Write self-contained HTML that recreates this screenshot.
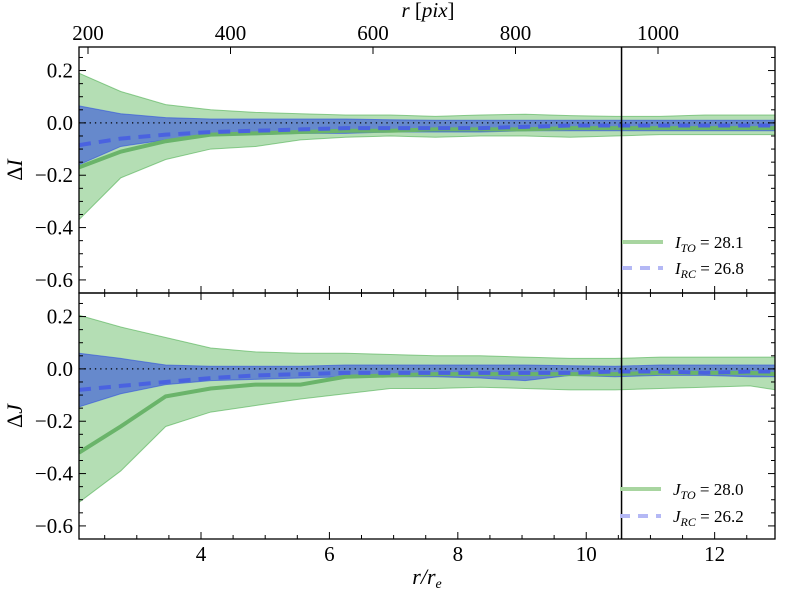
<!DOCTYPE html>
<html><head><meta charset="utf-8">
<style>
body{margin:0;background:#fff;}
svg{display:block;}
svg text{font-family:"Liberation Serif","DejaVu Serif",serif;}
</style></head>
<body>
<svg id="chart" width="800" height="600" xmlns="http://www.w3.org/2000/svg"></svg>
<script>
const rr = [2.1,2.75,3.45,4.15,4.85,5.55,6.25,6.95,7.65,8.35,9.05,9.75,10.45,11.15,11.85,12.55,12.95];
// Top panel (ΔI)
const iToLine = [-0.17,-0.11,-0.07,-0.045,-0.04,-0.035,-0.03,-0.03,-0.025,-0.025,-0.025,-0.02,-0.02,-0.02,-0.02,-0.02,-0.02];
const iToUp   = [0.19,0.12,0.07,0.05,0.04,0.035,0.03,0.03,0.025,0.03,0.033,0.028,0.025,0.025,0.03,0.03,0.03];
const iToLo   = [-0.37,-0.21,-0.14,-0.10,-0.09,-0.065,-0.055,-0.05,-0.055,-0.05,-0.05,-0.055,-0.05,-0.045,-0.045,-0.045,-0.045];
const iRcLine = [-0.085,-0.06,-0.045,-0.035,-0.03,-0.025,-0.02,-0.02,-0.02,-0.02,-0.015,-0.01,-0.01,-0.01,-0.01,-0.01,-0.01];
const iRcUp   = [0.065,0.035,0.02,0.015,0.015,0.015,0.015,0.012,0.01,0.01,0.01,0.01,0.01,0.01,0.01,0.01,0.01];
const iRcLo   = [-0.16,-0.09,-0.065,-0.045,-0.045,-0.04,-0.04,-0.035,-0.035,-0.035,-0.03,-0.03,-0.03,-0.03,-0.03,-0.03,-0.03];
// Bottom panel (ΔJ)
const jToLine = [-0.32,-0.22,-0.105,-0.075,-0.06,-0.06,-0.03,-0.025,-0.02,-0.02,-0.02,-0.02,-0.02,-0.015,-0.015,-0.015,-0.02];
const jToUp   = [0.205,0.16,0.12,0.08,0.065,0.06,0.06,0.055,0.05,0.05,0.045,0.04,0.04,0.045,0.045,0.045,0.045];
const jToLo   = [-0.51,-0.39,-0.22,-0.165,-0.14,-0.115,-0.095,-0.075,-0.075,-0.07,-0.075,-0.08,-0.08,-0.075,-0.07,-0.065,-0.08];
const jRcLine = [-0.08,-0.065,-0.05,-0.035,-0.025,-0.02,-0.015,-0.015,-0.015,-0.015,-0.015,-0.015,-0.01,-0.01,-0.015,-0.01,-0.01];
const jRcUp   = [0.06,0.04,0.015,0.01,0.01,0.01,0.015,0.015,0.015,0.015,0.015,0.012,0.01,0.015,0.015,0.015,0.015];
const jRcLo   = [-0.145,-0.095,-0.06,-0.045,-0.04,-0.035,-0.03,-0.03,-0.03,-0.035,-0.045,-0.025,-0.03,-0.025,-0.025,-0.03,-0.03];
const xTicks = [4,6,8,10,12];
const pixTicks = [200,400,600,800,1000];
const yTicks = [0.2,0.0,-0.2,-0.4,-0.6];
const vLine = 10.55;

const NS="http://www.w3.org/2000/svg";
const svg=document.getElementById('chart');
const FONT='"Liberation Serif","DejaVu Serif",serif';
const L=79,R=775,XMIN=2.1,XMAX=12.94;
const sx=v=>L+(v-XMIN)/(XMAX-XMIN)*(R-L);
const spx=p=>88+(p-200)*0.7125;
const YMAX=0.29,YMIN=-0.65;
function mk(tag,attrs,parent){const e=document.createElementNS(NS,tag);for(const k in attrs)e.setAttribute(k,attrs[k]);if(tag==='text')e.setAttribute('font-family',FONT);(parent||svg).appendChild(e);return e;}
function fmt(v){return (v<0?'\u2212':'')+Math.abs(v).toFixed(1);}

function panel(top,bot,name,d,lbl,legs,legY,legX){
  const sy=v=>top+(YMAX-v)/(YMAX-YMIN)*(bot-top);
  const g=mk('g',{});
  
  
  const clip=mk('clipPath',{id:'c'+name},g);mk('rect',{x:L,y:top,width:R-L,height:bot-top},clip);
  const pg=mk('g',{'clip-path':'url(#c'+name+')'},g);
  function band(up,lo,fill,op,stroke,n){
    let dd='M'+rr.map((x,i)=>sx(x)+','+sy(up[i])).join(' L')+' L'+rr.map((x,i)=>sx(x)+','+sy(lo[i])).reverse().join(' L')+'Z';
    const p=mk('path',{d:dd,fill:fill,'fill-opacity':op,stroke:stroke,'stroke-width':1,'stroke-opacity':0.6},pg);
    
    
  }
  function line(vals,color,w,dash,n){
    const p=mk('polyline',{points:rr.map((x,i)=>sx(x)+','+sy(vals[i])).join(' '),fill:'none',stroke:color,'stroke-width':w,'stroke-dasharray':dash||'none'},pg);
    
    
  }
  band(d.toUp,d.toLo,'#6abd6a',0.5,'#4caf50',name+'-to-band');
  band(d.rcUp,d.rcLo,'#3250dc',0.6,'#3050e0',name+'-rc-band');
  line(d.toLine,'#6ab46a',4,null,name+'-to-line');
  line(d.rcLine,'#4a62e0',4,'12,8',name+'-rc-line');
  const z=mk('line',{x1:L,x2:R,y1:sy(0),y2:sy(0),stroke:'#000','stroke-width':1.3,'stroke-dasharray':'1.3,4'},pg);
  
  
  const vl=mk('line',{x1:sx(vLine),x2:sx(vLine),y1:top,y2:bot,stroke:'#000','stroke-width':1.5},g);
  
  
  mk('rect',{x:L,y:top,width:R-L,height:bot-top,fill:'none',stroke:'#000','stroke-width':1.3},g);
  for(let v=-0.65;v<=0.29;v+=0.05){
    const vv=Math.round(v*100)/100, maj=Math.abs(Math.round(vv*10)/10-vv)<1e-6&&Math.round(vv*10)%2===0;
    const len=maj?7:4;
    mk('line',{x1:L,x2:L+len,y1:sy(vv),y2:sy(vv),stroke:'#000'},g);
    mk('line',{x1:R,x2:R-len,y1:sy(vv),y2:sy(vv),stroke:'#000'},g);
  }
  yTicks.forEach(v=>{
    const t=mk('text',{x:L-6,y:sy(v)+7,'text-anchor':'end','font-size':21},g);t.textContent=fmt(v);
    
    
  });
  for(let v=2.5;v<=12.94;v+=0.5){
    const maj=Math.abs(v%2)<1e-6,len=maj?7:4;
    mk('line',{x1:sx(v),x2:sx(v),y1:bot,y2:bot-len,stroke:'#000'},g);
    if(name==='j')mk('line',{x1:sx(v),x2:sx(v),y1:top,y2:top+len,stroke:'#000'},g);
  }
  const yl=mk('text',{x:0,y:0,'font-size':22,'font-style':'italic',transform:`translate(22,${sy(-0.18)}) rotate(-90)`,'text-anchor':'middle'},g);
  yl.innerHTML='<tspan font-style="normal">\u0394</tspan>'+lbl;
  
  
  legs.forEach((lg,i)=>{
    const y=legY[i];
    const ll=mk('line',{x1:legX,x2:legX+41,y1:y,y2:y,stroke:lg.c,'stroke-width':4,'stroke-dasharray':lg.dash||'none'},g);
    
    
    const t=mk('text',{x:legX+53,y:y+6,'font-size':17},g);
    t.innerHTML='<tspan font-style="italic">'+lbl+'</tspan><tspan font-style="italic" font-size="12" dy="4">'+lg.s+'</tspan><tspan dy="-4"> = '+lg.v+'</tspan>';
    
    
  });
}
panel(47,293,'i',{toLine:iToLine,toUp:iToUp,toLo:iToLo,rcLine:iRcLine,rcUp:iRcUp,rcLo:iRcLo},'I',
  [{c:'#a8d5a0',s:'TO',v:'28.1'},{c:'#b4b8f5',s:'RC',v:'26.8',dash:'10,8'}],[242,268],622);
panel(293,539,'j',{toLine:jToLine,toUp:jToUp,toLo:jToLo,rcLine:jRcLine,rcUp:jRcUp,rcLo:jRcLo},'J',
  [{c:'#a8d5a0',s:'TO',v:'28.0'},{c:'#b4b8f5',s:'RC',v:'26.2',dash:'10,8'}],[489,516],620);
pixTicks.forEach(p=>{
  mk('line',{x1:spx(p),x2:spx(p),y1:47,y2:54,stroke:'#000'});
  const t=mk('text',{x:spx(p),y:40,'text-anchor':'middle','font-size':21});t.textContent=p;
  
  
});
xTicks.forEach(v=>{
  const t=mk('text',{x:sx(v),y:561,'text-anchor':'middle','font-size':21});t.textContent=v;
  
  
});
const xt=mk('text',{x:427,y:584,'text-anchor':'middle','font-size':22,'font-style':'italic'});
xt.innerHTML='r/r<tspan font-size="14" dy="4">e</tspan>';


const tt=mk('text',{x:428,y:17,'text-anchor':'middle','font-size':21});
tt.innerHTML='<tspan font-style="italic">r</tspan> [<tspan font-style="italic">pix</tspan>]';


</script>
</body></html>
